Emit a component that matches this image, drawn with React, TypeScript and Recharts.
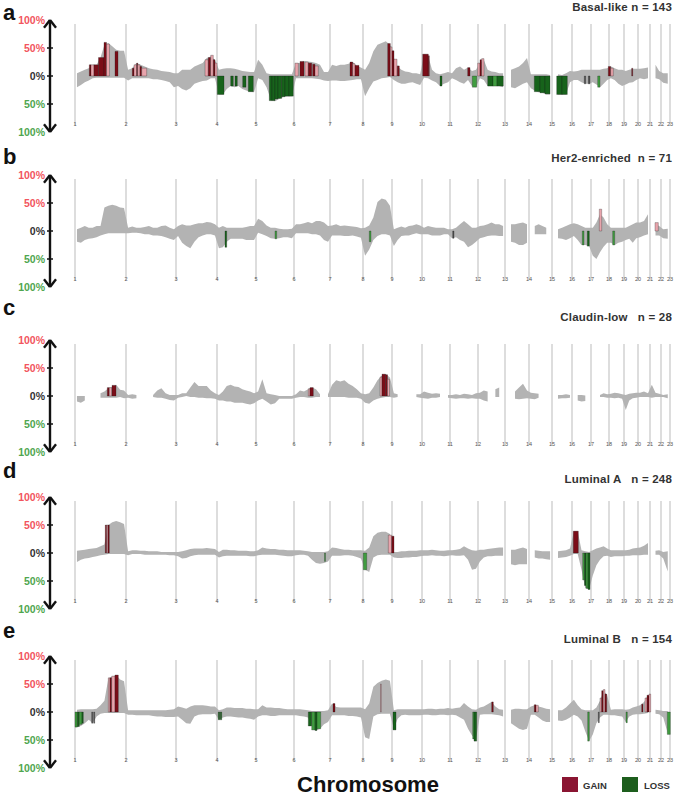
import React from 'react';
import { ComposedChart, Area, XAxis, YAxis, ReferenceLine, ReferenceArea } from 'recharts';

const FONT = '"Liberation Sans", Arial, Helvetica, sans-serif';

// ---------- categories / axes ----------
const chromosomes = ['1','2','3','4','5','6','7','8','9','10','11','12','13','14','15','16','17','18','19','20','21','22','23'];
// genome position (arbitrary probe-index units) where each chromosome starts
const chromStarts = [1,52,102,143,182,220,256,289,318,348,376,404,431,455,478,498,517,535,550,564,576,587,596];
const genomeEnd = 600;
const pctTicks = [-100, -50, 0, 50, 100];

const panelLetters = ['a', 'b', 'c', 'd', 'e'];
const subtypes = ['Basal-like', 'Her2-enriched', 'Claudin-low', 'Luminal A', 'Luminal B'];
const sampleSizes = [143, 71, 28, 248, 154];
const titleGaps = [' ', '  ', '   ', '   ', '   '];
const legendLabels = ['GAIN', 'LOSS'];

type V = number | null;
type Seg = [number, number, number, string];
const _ = null;

// ---------- a: Basal-like (gain % / loss % per chromosome bins) ----------
const basalGain: V[][] = [
  [5,8,11,14,20,20,33,56,59,53,47,45,45],
  [11,14,23,20,17,14,12,11,9,8,7,5],
  [5,11,11,11,17,20,23,32,35,29],
  [11,13,14,14,13,11,9,8,7,7],
  [29,20,5,3,3,3,3,3,3],
  [23,23,27,26,25,23,20,7,7],
  [20,18,20,20,22,25,18,15],
  [11,23,44,56,59,62,56],
  [32,17,11,8,7,5,5,3],
  [39,37,11,5,3,5,7],
  [5,14,17,11,15,9,11],
  [23,29,11,8,7,5,5],
  [_,11,14,17,23,32],
  [3,3,3,3,3,2],
  [_,3,2,5,9],
  [8,9,11,11,11],
  [11,11,11,13,14],
  [17,14,11,11],
  [9,11,13,13],
  [13,14,15],
  [_,20,9],
  [5,5],
  [_],
];
const basalLoss: V[][] = [
  [20,16,11,8,4,3,3,3,3,3,3,3,3],
  [8,4,4,4,4,4,6,6,7,9,11,20],
  [18,23,26,22,14,11,9,8,4,4],
  [33,33,23,18,20,18,23,26,28,29],
  [4,7,20,42,45,41,37,36,36],
  [4,4,4,4,4,5,6,8,9],
  [8,8,9,9,8,7,6,6],
  [36,22,10,7,4,3,2],
  [7,11,14,14,12,11,14,16],
  [3,4,8,11,18,14,11],
  [4,7,11,14,7,18,20],
  [4,7,18,18,18,18,20],
  [_,20,22,18,14,11],
  [22,26,29,30,33,33],
  [_,33,33,33,11],
  [7,7,11,14,14],
  [11,15,20,14,7],
  [4,7,14,18],
  [15,12,11,7],
  [4,6,4],
  [_,4,6],
  [12,14],
  [_],
];
const basalSig: Seg[] = [
  [15.3,17,20,'G'],[17,20,20,'g'],[20,24.5,20,'G'],[24.5,30,33,'G'],[30,32.5,60,'G'],[32.5,35.5,57,'g'],[41,44,44,'G'],
  [58.3,60,14,'G'],[60,62.7,20,'g'],[62.7,63.7,23,'G'],[63.7,66,20,'g'],[66,67.7,17,'G'],[67.7,72.7,14,'g'],
  [131,134.3,29,'g'],[134.3,136.7,33,'G'],[136.7,139.3,37,'g'],[139.3,141,29,'G'],[141,143,23,'g'],
  [143.3,150,33,'L'],[156.7,159.3,18,'L'],[161,163.3,18,'L'],[168.7,172,20,'L'],[174.3,179.3,28,'L'],
  [195.3,198,44,'L'],[198,201,44,'L'],[201,204,41,'L'],[204,207.7,40,'L'],[207.7,211,37,'L'],[211,215,36,'L'],[215,219.3,36,'L'],
  [221,224.3,23,'g'],[226,230,26,'G'],[231,234.3,25,'g'],[234.3,237.7,23,'G'],[238.7,241,21,'G'],[241,244.3,18,'g'],
  [276,278.7,25,'G'],[278.7,281,22,'g'],[281,285,19,'G'],
  [313.7,316.3,58,'G'],[316.3,318,52,'g'],[318,320,45,'G'],[320,323,30,'g'],[323.3,325.3,18,'G'],
  [348.7,354.3,39,'G'],[354.3,355.3,36,'G'],
  [366,368,18,'L'],
  [393.7,396,15,'G'],[398.3,402.7,20,'l'],
  [403.7,406,23,'g'],[406,407.7,29,'G'],[407.7,410,31,'g'],
  [413.7,419,18,'L'],[419,423,18,'l'],[423,429.3,18,'L'],
  [460.3,466,28,'L'],[466,471,30,'L'],[471,476,32,'L'],
  [482.7,488,33,'L'],[488,493.3,33,'L'],
  [510.3,511.7,14,'D'],[514.3,516,14,'D'],
  [523.7,526,20,'l'],
  [534.3,536.7,17,'G'],[536.7,539.3,14,'g'],
  [557.7,558.7,14,'G'],
];

// ---------- b: Her2-enriched ----------
const her2Gain: V[][] = [
  [3,6,9,6,6,9,9,42,45,47,45,42,41],
  [6,8,6,6,7,9,6,6,9,10,6,3],
  [9,12,10,10,12,14,14,16,15,12],
  [6,9,6,6,6,6,6,7,9,9],
  [22,18,10,6,6,4,3,3,4],
  [12,12,14,16,14,18,18,15,9],
  [10,12,9,10,9,8,7,5],
  [6,10,24,52,58,56,45],
  [3,6,8,6,9,10,12,10],
  [6,9,7,6,6,6,3],
  [3,6,12,18,12,6,6],
  [9,10,12,15,12,12,9],
  [_,12,12,14,15,12],
  [_,9,12,9,6,_],
  [_,3,6,9,12],
  [14,12,9,6,6],
  [6,15,30,24,12],
  [6,6,6,6],
  [6,9,12,15],
  [15,18,30],
  [_,12,9],
  [3,4],
  [_],
];
const her2Loss: V[][] = [
  [19,21,16,14,13,11,8,6,4,4,4,4,4],
  [4,3,3,4,6,6,8,8,9,11,14,16],
  [9,21,27,31,19,11,8,6,6,8],
  [31,29,19,14,14,14,14,16,16,16],
  [3,6,9,13,14,13,11,11,13],
  [4,4,4,4,6,6,8,16,19],
  [8,8,8,9,9,8,10,12],
  [44,33,16,9,6,6,8],
  [27,16,9,8,8,6,4,6],
  [6,6,8,8,8,6,6],
  [13,11,16,19,29,25,19],
  [13,11,9,8,8,9,9],
  [_,19,21,25,25,21],
  [_,6,6,6,6,_],
  [_,13,14,16,13],
  [9,16,25,25,27],
  [44,50,38,28,21],
  [21,25,21,19],
  [16,14,21,13],
  [11,8,6],
  [_,8,8],
  [13,14],
  [_],
];
const her2Sig: Seg[] = [
  [151,152.7,29,'L'],
  [201,202.7,14,'l'],
  [295.3,297,19,'l'],
  [378.7,380,13,'D'],
  [508.3,510,25,'l'],[513.3,515.3,27,'L'],
  [525.3,527.7,39,'g'],
  [538.7,540.7,25,'l'],
  [581,584.3,15,'g'],
];

// ---------- c: Claudin-low ----------
const claudinGain: V[][] = [
  [0,0,0,_,_,_,5,8,14,16,20,11,10],
  [2,3,2,_,_,_,2,10,14,5,2,2],
  [2,5,5,15,25,18,18,18,10,5],
  [2,8,18,20,17,16,12,10,8,5],
  [8,30,5,3,2,0,0,0,0],
  [3,10,8,12,15,12,3,_,3],
  [20,28,26,28,22,18,12,5],
  [3,5,15,28,36,39,33],
  [5,3,_,1,_,_,3,3],
  [8,6,4,5,4,_,2],
  [2,3,2,4,3,2,5],
  [6,10,8,_,12,15,_],
  [_,_,8,15,22,10],
  [6,5,4,_,_,_],
  [_,2,2,3,2],
  [_,2,2,1,_],
  [_,_,2,5,3],
  [4,6,5,3],
  [2,4,5,6],
  [6,8,5],
  [20,6,4],
  [2,3],
  [_],
];
const claudinLoss: V[][] = [
  [10,12,8,_,_,_,3,3,3,3,3,2,4],
  [3,5,4,_,_,_,2,3,3,5,7,8],
  [3,2,0,2,2,3,3,4,4,5],
  [8,8,10,10,12,12,12,14,15,13],
  [8,5,10,15,13,5,5,5,5],
  [3,2,2,3,3,2,2,_,2],
  [2,2,2,2,3,3,3,5],
  [12,14,8,5,3,2,2],
  [3,2,_,2,_,_,2,3],
  [4,5,3,3,2,_,3],
  [4,5,4,4,5,4,5],
  [5,8,10,_,2,2,_],
  [_,_,5,6,5,4],
  [5,6,3,_,_,_],
  [_,5,4,4,3],
  [_,8,10,9,_],
  [_,_,2,2,3],
  [3,4,3,5],
  [25,8,4,3],
  [2,2,2],
  [3,2,2],
  [2,4],
  [_],
];
const claudinSig: Seg[] = [
  [33.3,35.3,15,'G'],[35.3,37.7,15,'g'],[38,42,19,'G'],
  [234.3,236,13,'g'],[236,239.3,15,'G'],
  [306,308,34,'g'],[308,311.5,39,'G'],[311.5,313.5,38,'G'],[313.5,315.5,30,'g'],
];

// ---------- d: Luminal A ----------
const lumAGain: V[][] = [
  [4,5,6,7,8,9,12,15,50,55,57,55,52],
  [3,5,5,4,4,3,3,3,2,2,2,2],
  [2,3,5,7,8,8,8,9,8,7],
  [2,6,6,5,5,4,4,4,3,3],
  [5,10,8,7,7,6,6,5,5],
  [5,5,4,3,2,2,2,2,3],
  [10,9,7,6,6,5,5,5],
  [4,10,30,36,38,38,34],
  [2,2,3,3,4,4,4,5],
  [5,5,6,5,4,4,5],
  [5,6,7,12,8,5,4],
  [6,6,7,8,9,10,10],
  [_,6,6,8,10,7],
  [_,5,4,3,3,3],
  [_,3,4,5,8],
  [39,39,5,3,2],
  [5,8,10,12,8],
  [5,5,5,5],
  [5,6,8,9],
  [10,13,18],
  [_,4,5],
  [2,3],
  [_],
];
const lumALoss: V[][] = [
  [16,12,10,9,7,6,4,3,2,2,2,2,2],
  [4,2,2,2,3,3,3,3,3,3,4,4],
  [6,10,9,6,4,3,3,3,3,3],
  [8,6,5,5,5,5,5,5,6,6],
  [4,3,3,3,3,4,5,6,6],
  [4,3,3,5,12,18,19,18,15],
  [5,5,5,4,4,5,7,10],
  [30,34,8,4,3,3,3],
  [8,9,9,8,8,7,7,6],
  [5,5,4,5,5,6,5],
  [4,5,5,4,12,30,28],
  [15,8,6,6,5,5,5],
  [_,20,22,20,20,20],
  [_,8,10,10,11,12],
  [_,9,8,7,5],
  [2,2,30,63,65],
  [40,22,12,6,5],
  [7,6,6,6],
  [5,5,4,4],
  [4,3,3],
  [_,3,3],
  [10,33],
  [_],
];
const lumASig: Seg[] = [
  [31.3,32.7,50,'G'],[32.7,34,50,'g'],[34,35.3,50,'G'],
  [250.5,251.5,15,'l'],
  [289.3,292.7,30,'l'],
  [314.3,317.7,32,'g'],[317.7,320,30,'G'],
  [499.3,504.3,39,'G'],
  [508.7,510.5,48,'l'],[510.5,512,58,'L'],[512,514,63,'l'],[514,516,65,'L'],
];

// ---------- e: Luminal B ----------
const lumBGain: V[][] = [
  [4,5,5,5,5,6,12,20,60,63,66,58,55],
  [3,3,3,3,3,3,3,3,3,3,4,5],
  [10,8,6,10,12,12,12,11,10,10],
  [3,5,8,8,7,7,7,6,6,5],
  [5,12,8,8,7,7,6,5,5],
  [5,5,4,3,2,2,2,2,3],
  [15,9,8,8,8,8,8,8],
  [5,15,45,52,56,58,56],
  [3,5,5,5,5,5,5,5],
  [5,6,6,5,6,6,7],
  [6,7,8,16,10,5,4],
  [8,10,14,18,10,5,4],
  [_,4,6,6,5,5],
  [10,12,10,8,6,5],
  [_,3,3,8,15],
  [22,12,5,3,3],
  [3,8,20,38,30],
  [4,5,5,5],
  [4,5,8,10],
  [12,18,30],
  [_,4,3],
  [2,2],
  [_],
];
const lumBLoss: V[][] = [
  [27,25,20,14,20,8,3,2,2,2,2,2,2],
  [5,5,6,6,6,6,7,8,8,9,9,9],
  [8,14,20,21,8,5,4,4,4,3],
  [14,10,8,8,9,10,10,11,12,14],
  [8,6,6,7,7,6,6,6,6],
  [6,7,8,10,24,33,30,22,18],
  [6,6,6,6,7,7,8,10],
  [45,48,8,4,3,3,3],
  [30,12,6,5,6,6,6,6],
  [5,5,6,6,5,5,6],
  [5,6,10,14,30,42,50],
  [5,4,4,4,5,6,8],
  [_,20,25,30,32,30],
  [5,5,10,15,18,18],
  [_,15,16,14,10],
  [5,8,15,35,52],
  [40,20,10,5,5],
  [6,6,7,8],
  [18,8,5,4],
  [4,3,2],
  [_,3,4],
  [10,38],
  [_],
];
const lumBSig: Seg[] = [
  [1,3.3,27,'l'],[3.3,5.3,26,'L'],[5.3,8,22,'l'],[8,9.3,20,'L'],[17.7,18.7,20,'D'],[19.7,20.7,20,'D'],
  [34.3,36,61,'g'],[36,37.7,61,'G'],[37.7,41,64,'g'],[41,44.3,66,'G'],
  [144.3,145.7,14,'L'],[146.3,147.7,14,'L'],
  [234.3,237.7,25,'L'],[237.7,241,32,'l'],[241,243,33,'L'],[243,246.7,30,'l'],
  [259,261,15,'G'],
  [306.5,307.3,50,'g'],
  [319,322,32,'L'],
  [398.7,400,48,'l'],[400,402.7,52,'L'],
  [417.7,419.3,18,'G'],
  [460.3,462,13,'G'],[462,464.3,12,'g'],
  [513.7,515.3,52,'l'],
  [524.3,525.3,19,'D'],
  [526,527.7,25,'g'],[527.7,529.3,38,'G'],[529.3,531,40,'g'],[531,532.7,32,'G'],
  [552,553.3,19,'l'],
  [567.7,569,14,'G'],[571,573,25,'g'],[573,575,30,'G'],[575,576.7,32,'g'],
  [593.3,596.3,40,'l'],
];

// ---------- styling ----------
const segColors: Record<string, string> = { G: '#7b0d18', g: '#e8a4ac', L: '#17631b', l: '#3f9c3f', D: '#505050' };
const lossKinds = ['L', 'l', 'D'];
const GRAY = '#b3b3b3';
const panelTops = [-1, 154, 319, 476, 635];
const letterBaselines = [20, 164, 315, 478, 638];
const titleBaselines = [11, 162, 321, 483, 643];

function buildRows(gain: V[][], loss: V[][]) {
  const rows: { pos: number; gain: V; loss: V }[] = [];
  gain.forEach((g, c) => {
    const s = chromStarts[c];
    const e = c + 1 < chromStarts.length ? chromStarts[c + 1] : genomeEnd;
    const n = g.length;
    g.forEach((v, i) => {
      const l = loss[c][i];
      rows.push({ pos: s + ((i + 0.5) * (e - s)) / n, gain: v, loss: l == null ? null : -l });
    });
  });
  return rows;
}

const panels = [
  { rows: buildRows(basalGain, basalLoss), sig: basalSig },
  { rows: buildRows(her2Gain, her2Loss), sig: her2Sig },
  { rows: buildRows(claudinGain, claudinLoss), sig: claudinSig },
  { rows: buildRows(lumAGain, lumALoss), sig: lumASig },
  { rows: buildRows(lumBGain, lumBLoss), sig: lumBSig },
];

const PctTick = (p: any) => {
  const v = p.payload.value as number;
  const col = v > 0 ? '#f2555e' : v < 0 ? '#4fa64f' : '#333333';
  return (
    <g>
      {Math.abs(v) < 100 && (
        <line x1={p.x - 3} x2={p.x + 3} y1={p.y} y2={p.y} stroke="#111" strokeWidth={1.5} />
      )}
      <text x={p.x - 5} y={p.y} dy={3.7} textAnchor="end" fontSize={10.5} fontWeight="bold" fill={col} fontFamily={FONT}>
        {Math.abs(v)}%
      </text>
    </g>
  );
};

const ChromTick = (p: any) => {
  const i = chromStarts.indexOf(p.payload.value);
  return (
    <text x={p.x} y={p.y - 6} textAnchor="middle" fontSize={5.5} fill="#555555" stroke="none" fontFamily={FONT}>
      {chromosomes[i]}
    </text>
  );
};

function Panel({ idx }: { idx: number }) {
  const { rows, sig } = panels[idx];
  return (
    <div style={{ position: 'absolute', left: 0, top: panelTops[idx] }}>
      <ComposedChart width={682} height={141} data={rows} margin={{ top: 21, right: 8, bottom: 0, left: 0 }}>
        <XAxis
          dataKey="pos"
          type="number"
          domain={[-24, genomeEnd]}
          ticks={chromStarts}
          interval={0}
          allowDataOverflow
          axisLine={false}
          tickLine={false}
          tickSize={0}
          tickMargin={0}
          height={8}
          tick={ChromTick}
        />
        <YAxis
          type="number"
          domain={[-100, 100]}
          ticks={pctTicks}
          interval={0}
          width={50}
          tickSize={0}
          tickMargin={0}
          tickLine={false}
          axisLine={{ stroke: '#111', strokeWidth: 2.4 }}
          tick={PctTick}
        />
        {chromStarts.map((s) => (
          <ReferenceLine
            key={'c' + s}
            segment={[{ x: s, y: -88 }, { x: s, y: 93 }]}
            stroke="#c6c6c6"
            strokeWidth={1.2}
            ifOverflow="visible"
            zIndex={50}
          />
        ))}
        <Area dataKey="gain" type="linear" stroke="none" fill={GRAY} fillOpacity={1} baseValue={0} connectNulls={false} isAnimationActive={false} dot={false} activeDot={false} />
        <Area dataKey="loss" type="linear" stroke="none" fill={GRAY} fillOpacity={1} baseValue={0} connectNulls={false} isAnimationActive={false} dot={false} activeDot={false} />
        {sig.map(([a, b, v, k], j) => (
          <ReferenceArea
            key={'s' + j}
            x1={a}
            x2={b}
            y1={0}
            y2={lossKinds.includes(k) ? -v : v}
            fill={segColors[k]}
            fillOpacity={1}
            stroke="#1a1a1a"
            strokeOpacity={0.7}
            strokeWidth={0.4}
            ifOverflow="visible"
          />
        ))}
        <ReferenceLine segment={[{ x: -24, y: 100 }, { x: -30, y: 86 }]} stroke="#111" strokeWidth={2.4} ifOverflow="visible" />
        <ReferenceLine segment={[{ x: -24, y: 100 }, { x: -18, y: 86 }]} stroke="#111" strokeWidth={2.4} ifOverflow="visible" />
        <ReferenceLine segment={[{ x: -24, y: -100 }, { x: -30, y: -86 }]} stroke="#111" strokeWidth={2.4} ifOverflow="visible" />
        <ReferenceLine segment={[{ x: -24, y: -100 }, { x: -18, y: -86 }]} stroke="#111" strokeWidth={2.4} ifOverflow="visible" />
      </ComposedChart>
    </div>
  );
}

export default function App() {
  return (
    <div style={{ position: 'absolute', left: 0, top: 0, width: 682, height: 799, background: '#fff', overflow: 'hidden', fontFamily: FONT }}>
      <svg width={682} height={799} style={{ position: 'absolute', left: 0, top: 0 }}>
        {panelLetters.map((l, i) => (
          <text key={l} x={3} y={letterBaselines[i]} fontSize={22} fontWeight="bold" fill="#111" fontFamily={FONT}>
            {l}
          </text>
        ))}
        {subtypes.map((s, i) => (
          <text
            key={s}
            x={672}
            y={titleBaselines[i]}
            textAnchor="end"
            fontSize={11.5}
            fontWeight="bold"
            fill="#333"
            letterSpacing={0.2}
            fontFamily={FONT}
            style={{ whiteSpace: 'pre' }}
          >
            {`${s}${titleGaps[i]}n = ${sampleSizes[i]}`}
          </text>
        ))}
        <text x={368} y={792} textAnchor="middle" fontSize={22} fontWeight="bold" fill="#111" fontFamily={FONT}>
          Chromosome
        </text>
        <rect x={562} y={777} width={16} height={15} fill="#8a1532" />
        <text x={583} y={789} fontSize={9.5} fontWeight="bold" fill="#333" fontFamily={FONT}>
          {legendLabels[0]}
        </text>
        <rect x={622} y={777} width={16} height={15} fill="#1d5e1d" />
        <text x={644} y={789} fontSize={9.5} fontWeight="bold" fill="#333" fontFamily={FONT}>
          {legendLabels[1]}
        </text>
      </svg>
      {panels.map((_p, i) => (
        <Panel key={i} idx={i} />
      ))}
    </div>
  );
}
